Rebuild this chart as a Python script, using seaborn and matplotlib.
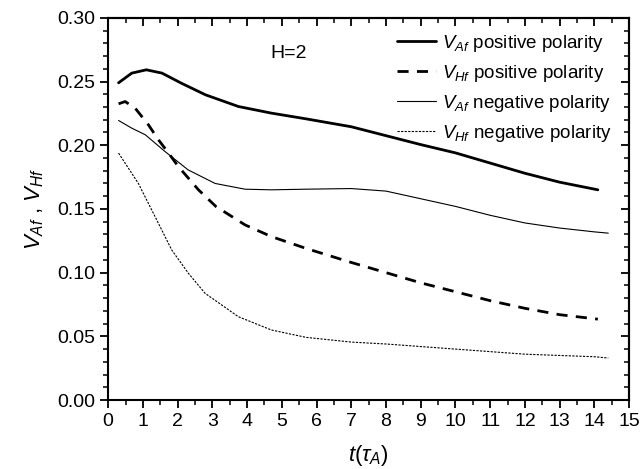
import numpy as np
import pandas as pd
import matplotlib
matplotlib.use("Agg")
import matplotlib.pyplot as plt
from matplotlib.ticker import MultipleLocator, FormatStrFormatter
import seaborn as sns

# ===================== DATA =====================
t_af_pos = [0.3, 0.68, 1.1, 1.55, 2.1, 2.8, 3.75, 4.7, 5.7, 7.0, 8.0, 9.0, 10.0, 11.0, 12.0, 13.0, 14.1]
v_af_pos = [0.249, 0.2566, 0.2592, 0.2566, 0.2488, 0.2396, 0.2304, 0.2252, 0.2207, 0.2145, 0.2075, 0.2005, 0.194, 0.186, 0.178, 0.171, 0.165]

t_hf_pos = [0.3, 0.49, 0.78, 1.16, 1.45, 1.74, 2.02, 2.6, 3.1, 3.94, 4.7, 5.7, 7.0, 8.0, 9.0, 10.0, 11.0, 12.0, 13.0, 14.1]
v_hf_pos = [0.2325, 0.2343, 0.229, 0.216, 0.2042, 0.1938, 0.1833, 0.165, 0.152, 0.1375, 0.1283, 0.119, 0.108, 0.100, 0.092, 0.085, 0.078, 0.072, 0.067, 0.0635]

t_af_neg = [0.3, 0.68, 1.07, 1.64, 2.3, 3.08, 3.94, 4.7, 5.7, 7.0, 8.0, 9.0, 10.0, 11.0, 12.0, 13.0, 14.0, 14.4]
v_af_neg = [0.2194, 0.2134, 0.2082, 0.195, 0.1807, 0.170, 0.1655, 0.165, 0.1655, 0.166, 0.164, 0.158, 0.152, 0.145, 0.139, 0.135, 0.132, 0.131]

t_hf_neg = [0.3, 0.87, 1.35, 1.83, 2.31, 2.79, 3.75, 4.7, 5.7, 7.0, 8.0, 9.0, 10.0, 11.0, 12.0, 13.0, 14.0, 14.4]
v_hf_neg = [0.1938, 0.170, 0.144, 0.1178, 0.0995, 0.0838, 0.0654, 0.055, 0.0492, 0.0455, 0.044, 0.042, 0.040, 0.038, 0.036, 0.035, 0.034, 0.033]

labels = [r"$V_{Af}$ positive polarity", r"$V_{Hf}$ positive polarity",
          r"$V_{Af}$ negative polarity", r"$V_{Hf}$ negative polarity"]

# ===================== STYLE =====================
sns.set_style("ticks")
plt.rcParams["font.family"] = ["Liberation Sans", "DejaVu Sans"]
plt.rcParams["mathtext.fontset"] = "custom"
plt.rcParams["mathtext.rm"] = "Liberation Sans"
plt.rcParams["mathtext.it"] = "Liberation Sans:italic"
plt.rcParams["axes.edgecolor"] = "black"
plt.rcParams["xtick.color"] = "black"
plt.rcParams["ytick.color"] = "black"
plt.rcParams["text.color"] = "black"
plt.rcParams["axes.labelcolor"] = "black"

fig = plt.figure(figsize=(6.4, 4.69), dpi=100)
ax = fig.add_axes([0.169, 0.147, 0.814, 0.815])

series = [
    (t_af_pos, v_af_pos, 2.0, "-"),
    (t_hf_pos, v_hf_pos, 2.0, (0, (4, 3))),
    (t_af_neg, v_af_neg, 0.8, "-"),
    (t_hf_neg, v_hf_neg, 0.8, (0, (2, 1.2))),
]
for (t, v, lw, ls), lab in zip(series, labels):
    sns.lineplot(x=t, y=v, ax=ax, color="black", linewidth=lw,
                 linestyle=ls, label=lab, sort=False)

ax.set_xlim(0, 15)
ax.set_ylim(0, 0.30)
ax.xaxis.set_major_locator(MultipleLocator(1))
ax.xaxis.set_minor_locator(MultipleLocator(0.5))
ax.yaxis.set_major_locator(MultipleLocator(0.05))
ax.yaxis.set_minor_locator(MultipleLocator(0.01))
ax.yaxis.set_major_formatter(FormatStrFormatter("%.2f"))
ax.tick_params(which="major", direction="out", length=6, width=1.3, labelsize=14)
ax.tick_params(which="minor", direction="out", length=3.5, width=1.1)
for s in ax.spines.values():
    s.set_linewidth(1.5)

# top / right ticks point inward
top = ax.secondary_xaxis("top")
top.xaxis.set_major_locator(MultipleLocator(1))
top.xaxis.set_minor_locator(MultipleLocator(0.5))
top.tick_params(which="major", direction="in", length=6, width=1.3, labeltop=False)
top.tick_params(which="minor", direction="in", length=3.5, width=1.1)
right = ax.secondary_yaxis("right")
right.yaxis.set_major_locator(MultipleLocator(0.05))
right.yaxis.set_minor_locator(MultipleLocator(0.01))
right.tick_params(which="major", direction="in", length=6, width=1.3, labelright=False)
right.tick_params(which="minor", direction="in", length=3.5, width=1.1)
for s in list(top.spines.values()) + list(right.spines.values()):
    s.set_linewidth(1.5)

ax.set_xlabel(r"$t(\tau_A)$", fontsize=16, labelpad=9)
ax.set_ylabel(r"$V_{Af}$ , $V_{Hf}$", fontsize=16, labelpad=8)
ax.text(5.2, 0.272, "H=2", fontsize=14, ha="center", va="center")

ax.legend(loc="upper right", frameon=False, fontsize=13.5, handlelength=2.1,
          handletextpad=0.3, labelspacing=0.48, borderaxespad=0.4,
          bbox_to_anchor=(0.995, 1.0))

plt.savefig("out.png", dpi=100)
plt.close()
